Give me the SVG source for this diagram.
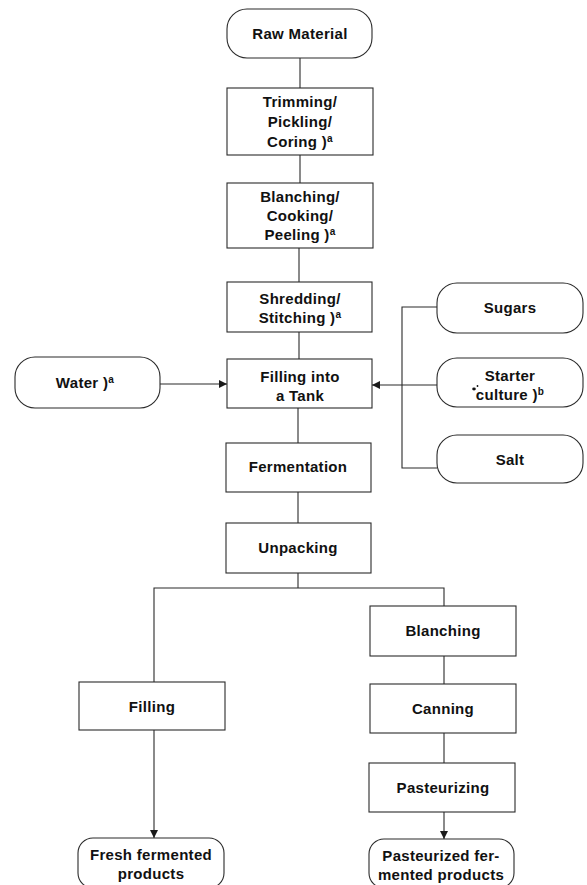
<svg xmlns="http://www.w3.org/2000/svg" width="587" height="885" viewBox="0 0 587 885">
  <defs>
    <style>
      .box { fill: #ffffff; stroke: #2a2a2a; stroke-width: 1.1; }
      .line { fill: none; stroke: #2a2a2a; stroke-width: 1.1; }
      .lbl { font-family: "Liberation Sans", Arial, Helvetica, sans-serif; font-weight: bold; font-size: 15px; fill: #111111; text-anchor: middle; letter-spacing: 0.3px; }
      .sup { font-size: 10px; }
    </style>
    <marker id="arrow" viewBox="0 0 10 10" refX="10" refY="5" markerWidth="8" markerHeight="8" markerUnits="userSpaceOnUse" orient="auto">
      <path d="M0,0 L10,5 L0,10 Z" fill="#1a1a1a"/>
    </marker>
  </defs>
  <rect width="587" height="885" fill="#ffffff"/>

  <!-- connectors -->
  <g id="connectors">
    <line class="line" x1="300" y1="58" x2="300" y2="88"/>
    <line class="line" x1="300" y1="155" x2="300" y2="183"/>
    <line class="line" x1="299" y1="248" x2="299" y2="282"/>
    <line class="line" x1="299" y1="332" x2="299" y2="359"/>
    <line class="line" x1="298" y1="408" x2="298" y2="443"/>
    <line class="line" x1="298" y1="492" x2="298" y2="523"/>
    <line class="line" x1="298" y1="573" x2="298" y2="588"/>
    <polyline class="line" points="154,682 154,588 444,588 444,606"/>
    <line class="line" x1="444" y1="656" x2="444" y2="684"/>
    <line class="line" x1="444" y1="733" x2="444" y2="763"/>
    <line class="line" x1="444" y1="812" x2="444" y2="839" marker-end="url(#arrow)"/>
    <line class="line" x1="154" y1="730" x2="154" y2="838" marker-end="url(#arrow)"/>
    <line class="line" x1="160" y1="384" x2="227" y2="384" marker-end="url(#arrow)"/>
    <polyline class="line" points="437,307 402,307 402,468 437,468"/>
    <line class="line" x1="437" y1="385" x2="372" y2="385" marker-end="url(#arrow)"/>
  </g>

  <g id="raw-material">
    <rect class="box" x="227" y="9" width="145" height="49" rx="20" ry="20"/>
    <text class="lbl" x="300" y="39">Raw Material</text>
  </g>

  <g id="trimming">
    <rect class="box" x="227" y="88" width="146" height="67"/>
    <text class="lbl" x="300" y="107">Trimming/</text>
    <text class="lbl" x="300" y="127">Pickling/</text>
    <text class="lbl" x="300" y="147">Coring )<tspan class="sup" dy="-5">a</tspan></text>
  </g>

  <g id="blanching-cooking">
    <rect class="box" x="227" y="183" width="146" height="65"/>
    <text class="lbl" x="300" y="202">Blanching/</text>
    <text class="lbl" x="300" y="221">Cooking/</text>
    <text class="lbl" x="300" y="240">Peeling )<tspan class="sup" dy="-5">a</tspan></text>
  </g>

  <g id="shredding">
    <rect class="box" x="227" y="282" width="145" height="50"/>
    <text class="lbl" x="300" y="304">Shredding/</text>
    <text class="lbl" x="300" y="323">Stitching )<tspan class="sup" dy="-5">a</tspan></text>
  </g>

  <g id="filling-tank">
    <rect class="box" x="227" y="359" width="145" height="49"/>
    <text class="lbl" x="300" y="382">Filling into</text>
    <text class="lbl" x="300" y="401">a Tank</text>
  </g>

  <g id="water">
    <rect class="box" x="15" y="357" width="145" height="51" rx="20" ry="20"/>
    <text class="lbl" x="85" y="388">Water )<tspan class="sup" dy="-5">a</tspan></text>
  </g>

  <g id="sugars">
    <rect class="box" x="437" y="283" width="146" height="50" rx="20" ry="20"/>
    <text class="lbl" x="510" y="313">Sugars</text>
  </g>

  <g id="starter-culture">
    <rect class="box" x="437" y="358" width="146" height="49" rx="20" ry="20"/>
    <ellipse cx="474" cy="389" rx="1.8" ry="1.4" fill="#111111"/>
    <circle cx="477.5" cy="386" r="0.9" fill="#111111"/>
    <text class="lbl" x="510" y="381">Starter</text>
    <text class="lbl" x="510" y="400">culture )<tspan class="sup" dy="-5">b</tspan></text>
  </g>

  <g id="salt">
    <rect class="box" x="437" y="435" width="146" height="48" rx="20" ry="20"/>
    <text class="lbl" x="510" y="465">Salt</text>
  </g>

  <g id="fermentation">
    <rect class="box" x="226" y="443" width="145" height="49"/>
    <text class="lbl" x="298" y="472">Fermentation</text>
  </g>

  <g id="unpacking">
    <rect class="box" x="226" y="523" width="145" height="50"/>
    <text class="lbl" x="298" y="553">Unpacking</text>
  </g>

  <g id="blanching">
    <rect class="box" x="370" y="606" width="146" height="50"/>
    <text class="lbl" x="443" y="636">Blanching</text>
  </g>

  <g id="canning">
    <rect class="box" x="370" y="684" width="146" height="49"/>
    <text class="lbl" x="443" y="714">Canning</text>
  </g>

  <g id="pasteurizing">
    <rect class="box" x="369" y="763" width="146" height="49"/>
    <text class="lbl" x="443" y="793">Pasteurizing</text>
  </g>

  <g id="filling">
    <rect class="box" x="79" y="682" width="146" height="48"/>
    <text class="lbl" x="152" y="712">Filling</text>
  </g>

  <g id="fresh-products">
    <rect class="box" x="78" y="838" width="146" height="50" rx="15" ry="15"/>
    <text class="lbl" x="151" y="860">Fresh fermented</text>
    <text class="lbl" x="151" y="879">products</text>
  </g>

  <g id="pasteurized-products">
    <rect class="box" x="369" y="839" width="145" height="49" rx="15" ry="15"/>
    <text class="lbl" x="441" y="861">Pasteurized fer-</text>
    <text class="lbl" x="441" y="880">mented products</text>
  </g>
</svg>
